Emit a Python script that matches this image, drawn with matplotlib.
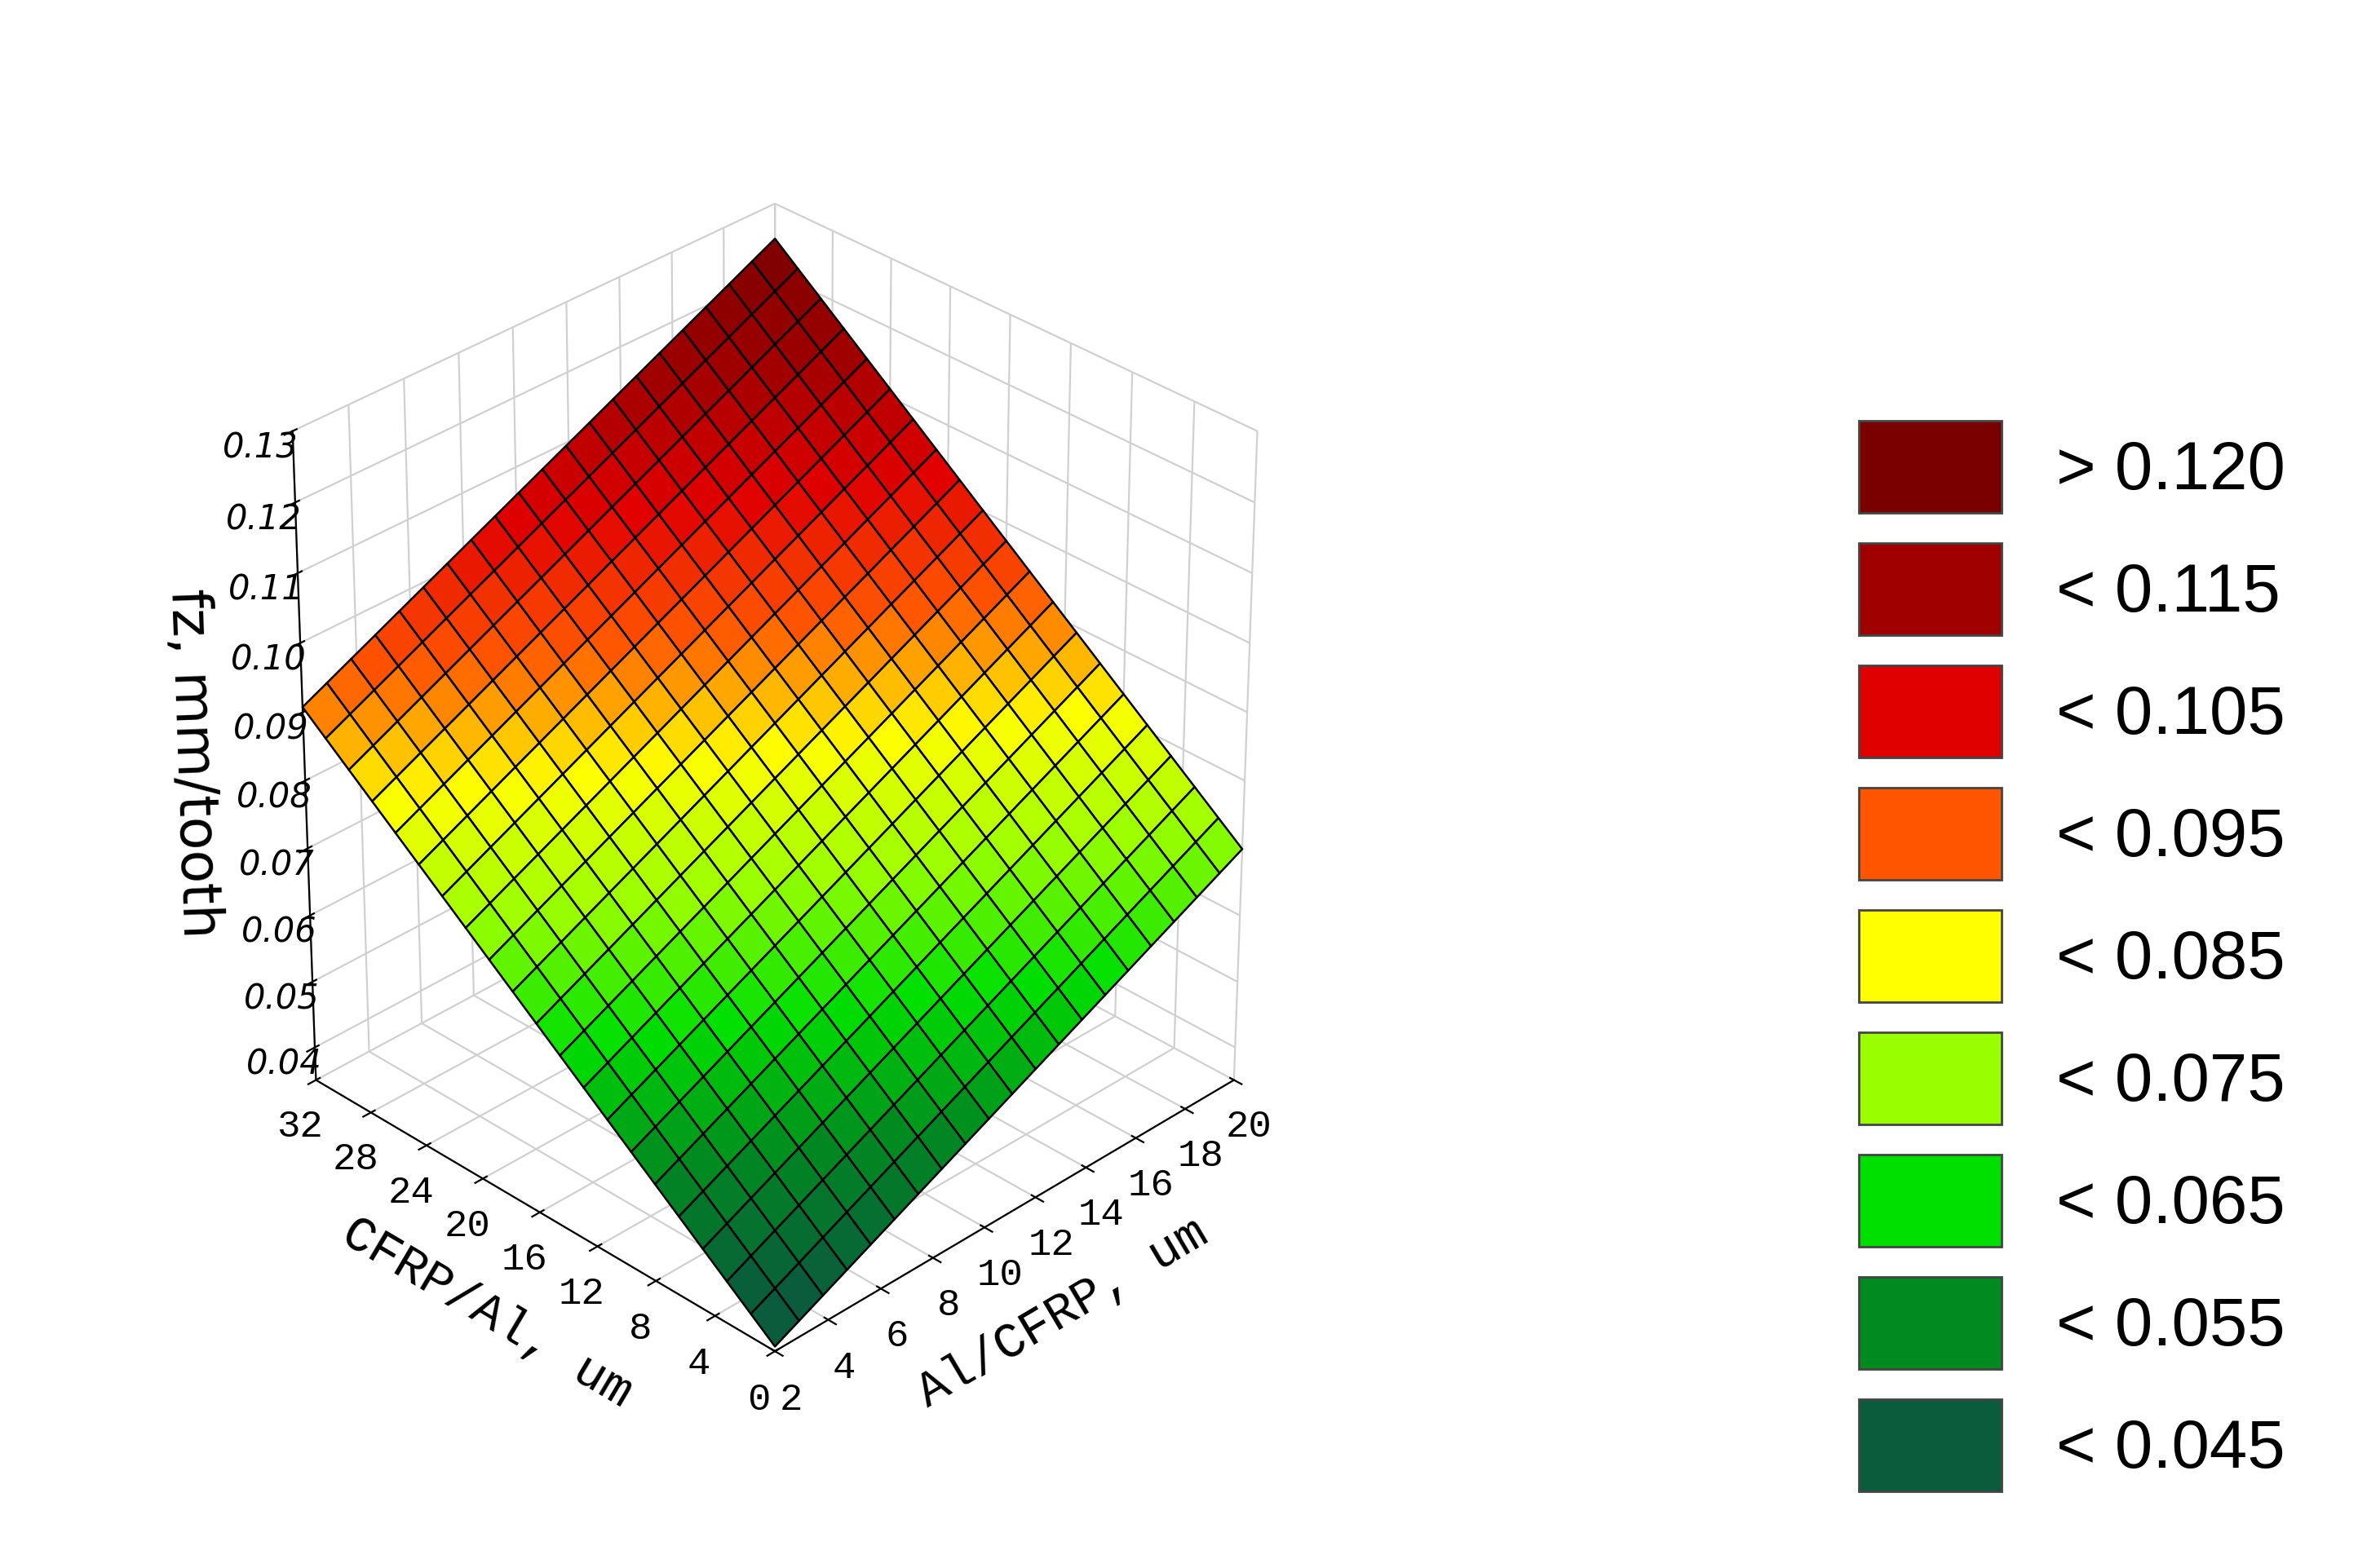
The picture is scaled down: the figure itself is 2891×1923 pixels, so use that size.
import numpy as np
import matplotlib
matplotlib.use("Agg")
import matplotlib.pyplot as plt
from matplotlib.colors import LinearSegmentedColormap
from matplotlib.patches import Patch

# regression plane fz = b0 + b1*x + b2*y, read from the corners of the surface
coef = [0.0319, 0.0019, 0.00172]
x_vals = np.arange(2, 20.01, 0.9)      # Al/CFRP, um
y_vals = np.arange(0, 32.01, 1.6)      # CFRP/Al, um
z_ticks = [0.04, 0.05, 0.06, 0.07, 0.08, 0.09, 0.10, 0.11, 0.12, 0.13]
x_ticks = [2, 4, 6, 8, 10, 12, 14, 16, 18, 20]
y_ticks = [0, 4, 8, 12, 16, 20, 24, 28, 32]

levels = ["> 0.120", "< 0.115", "< 0.105", "< 0.095", "< 0.085",
          "< 0.075", "< 0.065", "< 0.055", "< 0.045"]
level_colors = ["#7a0000", "#a00000", "#e00000", "#ff5500", "#ffff00",
                "#99ff00", "#00e000", "#008a20", "#0a5c3c"]

X, Y = np.meshgrid(x_vals, y_vals)
Z = coef[0] + coef[1] * X + coef[2] * Y

cmap = LinearSegmentedColormap.from_list("fz", level_colors[::-1])
norm = plt.Normalize(0.04, 0.125)

fig = plt.figure(figsize=(14.455, 9.615), dpi=200)
ax = fig.add_axes([0.0, 0.0, 0.64, 1.0], projection="3d")
zc = 0.25 * (Z[:-1, :-1] + Z[1:, 1:] + Z[:-1, 1:] + Z[1:, :-1])
fc = cmap(norm(zc))
ax.plot_surface(X, Y, Z, facecolors=fc, edgecolor="black", linewidth=0.9,
                shade=False, rstride=1, cstride=1, antialiased=True)

ax.view_init(elev=32, azim=-135)
ax.set_xlim(2, 20)
ax.set_ylim(0, 32)
ax.set_zlim(0.035, 0.13)
ax.set_xticks(x_ticks)
ax.set_yticks(y_ticks)
ax.set_zticks(z_ticks)
ax.set_zticklabels(["%.2f" % v for v in z_ticks], fontsize=15, style="italic")
ax.set_xticklabels(x_ticks, fontsize=17, family="Liberation Mono")
ax.set_yticklabels(y_ticks, fontsize=17, family="Liberation Mono")
ax.set_xlabel("Al/CFRP, um", fontsize=22, family="Liberation Mono", labelpad=18)
ax.set_ylabel("CFRP/Al, um", fontsize=22, family="Liberation Mono", labelpad=18)
ax.set_zlabel("fz, mm/tooth", fontsize=24, labelpad=20)
for a in (ax.xaxis, ax.yaxis, ax.zaxis):
    a.set_pane_color((1, 1, 1, 0))
    a._axinfo["grid"]["color"] = "#d0d0d0"
ax.set_box_aspect((1, 1, 1.15), zoom=0.78)

handles = [Patch(facecolor=c, edgecolor="#444444") for c in level_colors]
fig.legend(handles, levels, loc="lower right", bbox_to_anchor=(0.995, 0.01),
           frameon=False, prop={"family": "Liberation Sans", "size": 30},
           handlelength=2.1, handleheight=1.7, labelspacing=0.45)

fig.savefig("out.png", dpi=200, facecolor="white")
